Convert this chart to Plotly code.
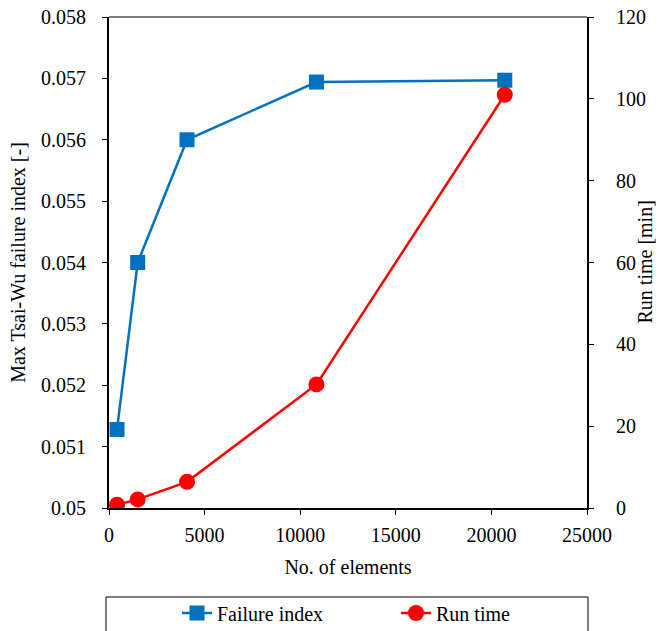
import plotly.graph_objects as go

elements = [420, 1500, 4080, 10850, 20700]
failure_index = [0.05128, 0.05400, 0.05600, 0.05694, 0.05697]
run_time = [0.8, 2.1, 6.4, 30.2, 101.0]

x_ticks = [0, 5000, 10000, 15000, 20000, 25000]
x_ticktext = ["0", "5000", "10000", "15000", "20000", "25000"]
y_ticks = [0.05, 0.051, 0.052, 0.053, 0.054, 0.055, 0.056, 0.057, 0.058]
y_ticktext = ["0.05", "0.051", "0.052", "0.053", "0.054", "0.055", "0.056", "0.057", "0.058"]
y2_ticks = [0, 20, 40, 60, 80, 100, 120]
y2_ticktext = ["0", "20", "40", "60", "80", "100", "120"]

FONT = "Liberation Serif"
BLUE = "#0070C0"
RED = "#FF0000"
FS = 20

fig = go.Figure()
fig.add_trace(go.Scatter(
    x=elements, y=failure_index, name="Failure index", mode="lines+markers",
    line=dict(color=BLUE, width=2.5),
    marker=dict(symbol="square", size=15, color=BLUE),
    yaxis="y", legend="legend"))
fig.add_trace(go.Scatter(
    x=elements, y=run_time, name="Run time", mode="lines+markers",
    line=dict(color=RED, width=2.5),
    marker=dict(symbol="circle", size=16, color=RED),
    yaxis="y2", legend="legend2"))


def axis_common():
    return dict(showline=True, linecolor="black", linewidth=2, ticks="outside",
                ticklen=5, tickwidth=1, tickcolor="black", showgrid=False,
                zeroline=False, automargin=False,
                tickfont=dict(family=FONT, size=FS, color="#000000"))


legend_common = dict(orientation="h", yanchor="middle", y=(508 - 613) / 491,
                     xanchor="left", font=dict(family=FONT, size=FS, color="#000000"),
                     bgcolor="rgba(0,0,0,0)", borderwidth=0)

fig.update_layout(
    width=662, height=631,
    margin=dict(l=109, r=75, t=17, b=123, autoexpand=False),
    paper_bgcolor="white", plot_bgcolor="white",
    xaxis=dict(range=[0, 25000], tickvals=x_ticks, ticktext=x_ticktext,
               ticklabelstandoff=3,
               title=dict(text="No. of elements", font=dict(family=FONT, size=FS, color="#000000"), standoff=15),
               **axis_common()),
    yaxis=dict(range=[0.05, 0.058], tickvals=y_ticks, ticktext=y_ticktext,
               ticklabelstandoff=12,
               title=dict(text="Max Tsai-Wu failure index [-]", font=dict(family=FONT, size=FS, color="#000000"), standoff=10),
               **axis_common()),
    yaxis2=dict(range=[0, 120], tickvals=y2_ticks, ticktext=y2_ticktext,
                overlaying="y", side="right", ticklabelstandoff=18,
                **axis_common()),
    showlegend=True,
    legend=dict(x=(177 - 109) / 478, **legend_common),
    legend2=dict(x=(396 - 109) / 478, **legend_common),
    annotations=[
        dict(text="Run time [min]", xref="paper", yref="paper", x=(644 - 109) / 478, y=0.5,
             xanchor="center", yanchor="middle", textangle=-90, showarrow=False,
             font=dict(family=FONT, size=FS, color="#000000")),
    ],
    shapes=[
        dict(type="line", xref="paper", yref="paper", x0=0, x1=1, y0=1, y1=1,
             line=dict(color="black", width=1)),
        dict(type="rect", xref="paper", yref="paper",
             x0=-3 / 478, x1=1 + 1 / 478, y0=(508 - 597) / 491, y1=(508 - 640) / 491,
             line=dict(color="black", width=1), fillcolor="rgba(0,0,0,0)", layer="below"),
    ],
)

fig.write_html("out.html")
